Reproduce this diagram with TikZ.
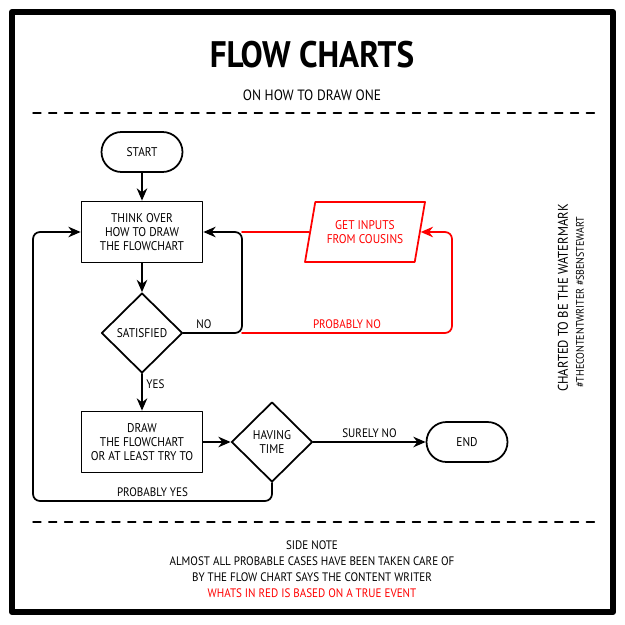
\documentclass[tikz,border=0pt]{standalone}
\usepackage{fontspec}
\setmainfont{PT Sans}[FakeStretch=0.9]
\usetikzlibrary{shapes.geometric,arrows.meta}

\tikzset{
  terminal/.style={draw,line width=1pt,rounded corners=0.4cm,minimum width=1.62cm,minimum height=0.8cm,inner sep=1pt},
  process/.style={draw,line width=1pt,minimum width=2.42cm,minimum height=1.22cm,inner sep=1pt,align=center},
  decision/.style={draw,line width=1pt,diamond,aspect=1,minimum width=1.62cm,minimum height=1.6cm,inner sep=0pt,align=center},
  redio/.style={draw=red,text=red,line width=1pt,trapezium,trapezium left angle=69,trapezium right angle=111,
    trapezium stretches body,minimum width=2.4cm,minimum height=1.2cm,inner sep=1pt,align=center},
  flow/.style={line width=1pt,-{Stealth[length=7pt,width=6pt]},rounded corners=4pt},
  redflow/.style={flow,draw=red},
  lbl/.style={font=\fontsize{7}{8}\selectfont,inner sep=2pt},
  dashsep/.style={line width=0.8pt,dash pattern=on 4.5pt off 4.5pt},
}

\begin{document}
\begin{tikzpicture}[x=0.02cm,y=-0.02cm,line join=round,line cap=round,font=\fontsize{7.2}{8}\selectfont]

  \useasboundingbox (0,0) rectangle (625,625);

  % ---- cornice e titolo ----------------------------------------------------
  \draw[line width=3.4pt] (12,12) rectangle (613,612);
  \node (title) at (312,55) {\fontsize{21}{24}\selectfont\bfseries FLOW CHARTS};
  \node (subtitle) at (312,95) {\fontsize{8.5}{10}\selectfont ON HOW TO DRAW ONE};
  \draw[dashsep] (33,113) -- (600,113);

  % ---- i blocchi -----------------------------------------------------------
  \node[terminal] (start) at (142,152) {START};
  \node[process] (think) at (142,232) {THINK OVER\\HOW TO DRAW\\THE FLOWCHART};
  \node[decision] (satisfied) at (142,333) {SATISFIED};
  \node[process] (drawit) at (142,442) {DRAW\\THE FLOWCHART\\OR AT LEAST TRY TO};
  \node[decision] (havingtime) at (272,442) {HAVING\\TIME};
  \node[terminal] (finish) at (467,442) {END};
  \node[redio] (inputs) at (365,232) {GET INPUTS\\FROM COUSINS};

  % ---- punti di passaggio dei cappi -----------------------------------------
  \coordinate (noline) at (242,0);
  \coordinate (redline) at (452,0);
  \coordinate (yescorner) at (33,501);

  % ---- il ramo rosso (sotto quello nero) -------------------------------------
  \draw[redflow] (satisfied.east -| noline) -- node[lbl,above,text=red] {PROBABLY NO}
    (satisfied.east -| redline) |- (inputs.east);
  \draw[line width=1pt,red] (inputs.west) -- (noline |- inputs.west);

  % ---- le frecce -----------------------------------------------------------
  \draw[flow] (start) -- (think);
  \draw[flow] (think) -- (satisfied);
  \draw[flow] (satisfied) -- node[lbl,right,pos=0.28] {YES} (drawit);
  \draw[flow] (drawit) -- (havingtime);
  \draw[flow] (havingtime) -- node[lbl,above] {SURELY NO} (finish);
  \draw[flow] (satisfied.east) -- node[lbl,above,pos=0.35] {NO}
    (satisfied.east -| noline) |- (think.east);
  \draw[flow] (havingtime.south) |- node[lbl,above,pos=0.75] {PROBABLY YES}
    (yescorner) |- (think.west);

  % ---- la filigrana --------------------------------------------------------
  \node[rotate=90] (watermark) at (563,298) {\fontsize{8}{9}\selectfont CHARTED TO BE THE WATERMARK};
  \node[rotate=90] (hashtags) at (580,302) {\fontsize{6.3}{7}\selectfont \#THECONTENTWRITER \#SBENSTEWART};

  % ---- nota a pie' di pagina -----------------------------------------------
  \draw[dashsep] (33,522) -- (600,522);
  \node[align=center,font=\fontsize{7}{9}\selectfont] (sidenote) at (312,569)
    {SIDE NOTE\\ALMOST ALL PROBABLE CASES HAVE BEEN TAKEN CARE OF\\BY THE FLOW CHART SAYS THE CONTENT WRITER\\
     \textcolor{red}{WHATS IN RED IS BASED ON A TRUE EVENT}};

\end{tikzpicture}
\end{document}
